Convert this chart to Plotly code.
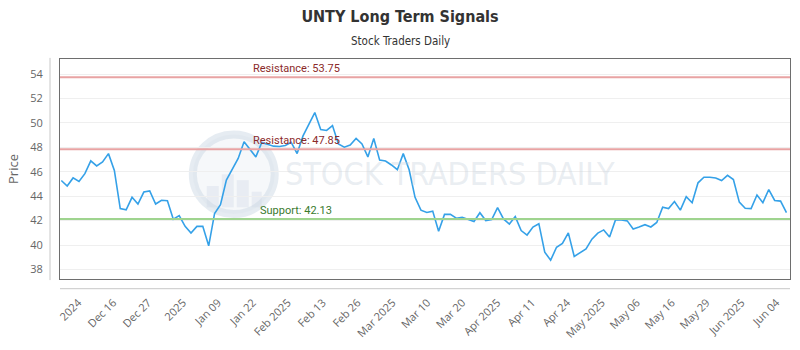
import plotly.graph_objects as go

# ---- data ----
prices = [45.29, 44.84, 45.5, 45.21, 45.85, 46.9, 46.48, 46.8, 47.49, 46.11,
          42.99, 42.88, 43.91, 43.36, 44.34, 44.44, 43.36, 43.67, 43.63, 42.12,
          42.41, 41.53, 40.98, 41.53, 41.53, 39.94, 42.59, 43.31, 45.32, 46.16,
          47.09, 48.47, 47.83, 47.22, 48.41, 48.25, 48.1, 48.07, 48.15, 48.41,
          47.49, 48.94, 49.87, 50.85, 49.47, 49.39, 49.79, 48.28, 48.02, 48.2,
          48.73, 48.28, 47.22, 48.73, 46.96, 46.88, 46.56, 46.17, 47.49, 46.17,
          43.91, 42.86, 42.67, 42.78, 41.13, 42.51, 42.51, 42.2, 42.28, 42.12,
          41.93, 42.65, 42.01, 42.09, 43.07, 42.14, 41.72, 42.33, 41.19, 40.82,
          41.48, 41.75, 39.42, 38.76, 39.82, 40.13, 41.0, 39.07, 39.34, 39.68,
          40.48, 40.98, 41.24, 40.66, 42.06, 42.06, 41.98, 41.32, 41.48, 41.67,
          41.48, 41.85, 43.1, 42.99, 43.57, 42.86, 43.97, 43.47, 45.1, 45.56,
          45.56, 45.5, 45.29, 45.71, 45.37, 43.52, 43.02, 42.99, 44.1, 43.47,
          44.55, 43.65, 43.6, 42.65]

tick_labels = ["2024", "Dec 16", "Dec 27", "2025", "Jan 09", "Jan 22", "Feb 2025",
               "Feb 13", "Feb 26", "Mar 2025", "Mar 10", "Mar 20", "Apr 2025",
               "Apr 11", "Apr 24", "May 2025", "May 06", "May 16", "May 29",
               "Jun 2025", "Jun 04"]

level_names = ["Resistance", "Resistance", "Support"]
level_values = [53.75, 47.85, 42.13]

x_idx = list(range(len(prices)))

# ---- layout geometry (pixels) ----
W, H = 800, 350
L, R, T, B = 60, 9, 59, 64
pw = W - L - R
ph = H - T - B

def px_x(p):
    return (p - L) / pw

def px_y(p):
    return (H - B - p) / ph

tick_start, tick_step = 2.9, 5.92
tickvals = [tick_start + k * tick_step for k in range(len(tick_labels))]

COND = "Liberation Sans Narrow, DejaVu Sans Condensed, Roboto"

fig = go.Figure()
fig.add_trace(go.Scatter(
    x=x_idx, y=prices, mode="lines",
    line=dict(color="#35a1e8", width=1.6),
    hoverinfo="skip", showlegend=False,
))

shapes = []
annotations = []

# watermark logo
shapes.append(dict(type="circle", xref="paper", yref="paper",
                   x0=px_x(193), x1=px_x(275), y0=px_y(219), y1=px_y(137),
                   line=dict(color="rgba(200,212,226,0.45)", width=8),
                   fillcolor="rgba(228,234,242,0.35)", layer="below"))
for bx0, bx1, btop in [(207, 219, 190), (222, 234, 178), (237, 249, 184), (252, 262, 196)]:
    shapes.append(dict(type="rect", xref="paper", yref="paper",
                       x0=px_x(bx0), x1=px_x(bx1), y0=px_y(212), y1=px_y(btop),
                       line=dict(width=0), fillcolor="rgba(205,215,228,0.35)", layer="below"))
annotations.append(dict(text="STOCK TRADERS DAILY", xref="paper", yref="paper",
                        x=px_x(451), y=px_y(178), xanchor="center", yanchor="middle",
                        showarrow=False,
                        font=dict(family=COND, size=32, color="rgba(200,210,222,0.40)")))

# level lines and labels
for name, val in zip(level_names, level_values):
    is_res = name == "Resistance"
    shapes.append(dict(type="line", xref="paper", yref="y", x0=0, x1=1, y0=val, y1=val,
                       line=dict(color="#e8a3a3" if is_res else "#9fd48f", width=2),
                       layer="above"))
    annotations.append(dict(text=f"{name}: {val:.2f}", xref="paper", yref="y",
                            x=px_x(251 if is_res else 258), y=val, yshift=9,
                            xanchor="left", yanchor="middle", showarrow=False,
                            font=dict(family="Roboto, Open Sans", size=11,
                                      color="#8b2a2a" if is_res else "#3a7a2e")))

# offset axis lines (outside plot box)
shapes.append(dict(type="line", xref="paper", yref="paper",
                   x0=-10 / pw, x1=-10 / pw, y0=-0.005, y1=1.005,
                   line=dict(color="#c8c8c8", width=1)))
shapes.append(dict(type="line", xref="paper", yref="paper",
                   x0=0, x1=1, y0=-10 / ph, y1=-10 / ph,
                   line=dict(color="#c8c8c8", width=1)))

# subtitle
annotations.append(dict(text="Stock Traders Daily", xref="paper", yref="paper",
                        x=px_x(401), y=px_y(40), xanchor="center",
                        yanchor="middle", showarrow=False,
                        font=dict(family=COND, size=11.5, color="#333333")))

fig.update_layout(
    width=W, height=H,
    margin=dict(l=L, r=R, t=T, b=B),
    paper_bgcolor="white", plot_bgcolor="white",
    title=dict(text="<b>UNTY Long Term Signals</b>", x=0.5, xanchor="center",
               y=1 - 16 / H, yanchor="middle", xref="container", yref="container",
               font=dict(family=COND, size=16, color="#333333")),
    shapes=shapes, annotations=annotations,
    xaxis=dict(range=[-0.22, 123.6], showgrid=False, zeroline=False,
               tickmode="array", tickvals=tickvals, ticktext=tick_labels,
               tickangle=-45, ticks="", ticklabelstandoff=12,
               tickfont=dict(family="Open Sans, Roboto", size=11, color="#666666"),
               showline=True, mirror=True, linecolor="#6e6e6e", linewidth=1),
    yaxis=dict(range=[37.22, 55.24], tickmode="array",
               tickvals=[38, 40, 42, 44, 46, 48, 50, 52, 54],
               showgrid=True, gridcolor="#efefef", gridwidth=1, zeroline=False,
               ticks="", ticklabelstandoff=14,
               tickfont=dict(family="Open Sans, Roboto", size=11, color="#666666"),
               title=dict(text="Price", standoff=8,
                          font=dict(family="Open Sans, Roboto", size=13, color="#666666")),
               showline=True, mirror=True, linecolor="#6e6e6e", linewidth=1),
)

fig.write_html("out.html")
